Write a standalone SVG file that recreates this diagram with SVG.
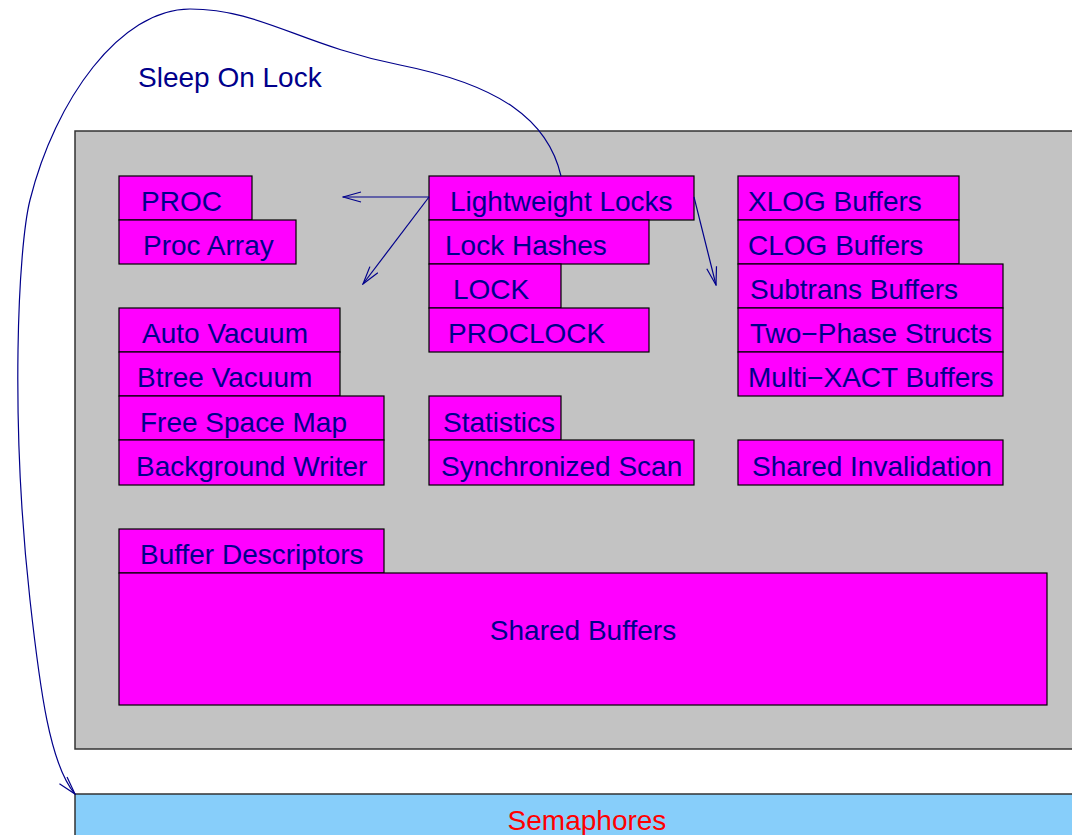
<svg xmlns="http://www.w3.org/2000/svg" width="1072" height="835" viewBox="0 0 1072 835">
<style>
.b{fill:#ff00ff;stroke:#000;stroke-width:1.2}
.t{font-family:"Liberation Sans",Arial,sans-serif;font-size:28px;fill:#00008b}
.c{fill:none;stroke:#00008b;stroke-width:1.2}
</style>
<defs>
<marker id="ah" viewBox="0 0 20 12" refX="19" refY="6" markerWidth="20" markerHeight="12" markerUnits="userSpaceOnUse" orient="auto">
<path d="M1,1 L19,6 L1,11" fill="none" stroke="#00008b" stroke-width="1.2"/>
</marker>
</defs>
<rect width="1072" height="835" fill="#fff"/>
<g id="shared-memory"><rect x="75" y="131" width="1010" height="618" fill="#c3c3c3" stroke="#333" stroke-width="1.5"/></g>
<g id="semaphores"><rect x="75" y="794" width="1010" height="60" fill="#87cefa" stroke="#333" stroke-width="1.5"/><text x="587" y="830" text-anchor="middle" class="t" style="fill:#ff0000">Semaphores</text></g>
<g id="proc"><rect class="b" x="119" y="176" width="133" height="44"/><text class="t" x="141" y="211">PROC</text></g>
<g id="proc-array"><rect class="b" x="119" y="220" width="177" height="44"/><text class="t" x="143" y="255">Proc Array</text></g>
<g id="lwlocks"><rect class="b" x="429" y="176" width="265" height="44"/><text class="t" x="450" y="211">Lightweight Locks</text></g>
<g id="lock-hashes"><rect class="b" x="429" y="220" width="220" height="44"/><text class="t" x="445" y="255">Lock Hashes</text></g>
<g id="lock"><rect class="b" x="429" y="264" width="132" height="44"/><text class="t" x="453" y="299">LOCK</text></g>
<g id="proclock"><rect class="b" x="429" y="308" width="220" height="44"/><text class="t" x="448" y="343">PROCLOCK</text></g>
<g id="xlog"><rect class="b" x="738" y="176" width="221" height="44"/><text class="t" x="748" y="211">XLOG Buffers</text></g>
<g id="clog"><rect class="b" x="738" y="220" width="221" height="44"/><text class="t" x="748" y="255">CLOG Buffers</text></g>
<g id="subtrans"><rect class="b" x="738" y="264" width="265" height="44"/><text class="t" x="750" y="299">Subtrans Buffers</text></g>
<g id="twophase"><rect class="b" x="738" y="308" width="265" height="44"/><text class="t" x="750" y="343">Two−Phase Structs</text></g>
<g id="multixact"><rect class="b" x="738" y="352" width="265" height="44"/><text class="t" x="748" y="387">Multi−XACT Buffers</text></g>
<g id="autovac"><rect class="b" x="119" y="308" width="221" height="44"/><text class="t" x="142" y="343">Auto Vacuum</text></g>
<g id="btreevac"><rect class="b" x="119" y="352" width="221" height="44"/><text class="t" x="137" y="387">Btree Vacuum</text></g>
<g id="fsm"><rect class="b" x="119" y="396" width="265" height="44"/><text class="t" x="140" y="432">Free Space Map</text></g>
<g id="bgwriter"><rect class="b" x="119" y="440" width="265" height="45"/><text class="t" x="136" y="476">Background Writer</text></g>
<g id="statistics"><rect class="b" x="429" y="396" width="132" height="44"/><text class="t" x="443" y="432">Statistics</text></g>
<g id="syncscan"><rect class="b" x="429" y="440" width="265" height="45"/><text class="t" x="441" y="476">Synchronized Scan</text></g>
<g id="sinval"><rect class="b" x="738" y="440" width="265" height="45"/><text class="t" x="752" y="476">Shared Invalidation</text></g>
<g id="bufdesc"><rect class="b" x="119" y="529" width="265" height="44"/><text class="t" x="140" y="564">Buffer Descriptors</text></g>
<g id="sharedbuf"><rect class="b" x="119" y="573" width="928" height="132"/><text class="t" x="583" y="640" text-anchor="middle">Shared Buffers</text></g>
<g id="label-sleep"><text class="t" x="138" y="87">Sleep On Lock</text></g>
<g id="connectors">
<path class="c" d="M429,197 L343,197" marker-end="url(#ah)"/>
<path class="c" d="M429,197 L363,284" marker-end="url(#ah)"/>
<path class="c" d="M694,197 L716,285" marker-end="url(#ah)"/>
<path class="c" d="M561,176 C548,120 500,85 400,65 C300,45 260,9 190,9 C120,9 55,100 30,200 C18,248 10,420 30,600 C40,690 50,765 75,794" marker-end="url(#ah)"/>
</g>
</svg>
